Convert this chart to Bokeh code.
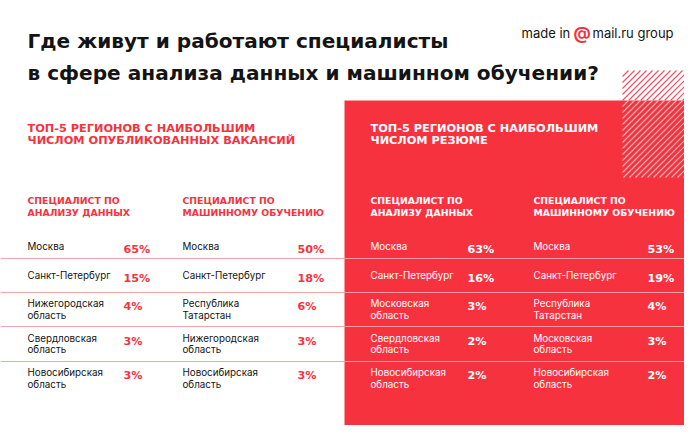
from bokeh.plotting import figure
from bokeh.models import Range1d
from bokeh.embed import file_html
from bokeh.resources import INLINE
from bokeh.core.properties import value

# ---------------- data ----------------
title_lines = ["Где живут и работают специалисты",
               "в сфере анализа данных и машинном обучении?"]
logo_parts = ["made in", "@", "mail.ru group"]
left_heading = ["ТОП-5 РЕГИОНОВ С НАИБОЛЬШИМ", "ЧИСЛОМ ОПУБЛИКОВАННЫХ ВАКАНСИЙ"]
right_heading = ["ТОП-5 РЕГИОНОВ С НАИБОЛЬШИМ", "ЧИСЛОМ РЕЗЮМЕ"]
col_da = ["СПЕЦИАЛИСТ ПО", "АНАЛИЗУ ДАННЫХ"]
col_ml = ["СПЕЦИАЛИСТ ПО", "МАШИННОМУ ОБУЧЕНИЮ"]

vac_da_regions = ["Москва", "Санкт-Петербург", "Нижегородская\nобласть",
                  "Свердловская\nобласть", "Новосибирская\nобласть"]
vac_da_share = [65, 15, 4, 3, 3]
vac_ml_regions = ["Москва", "Санкт-Петербург", "Республика\nТатарстан",
                  "Нижегородская\nобласть", "Новосибирская\nобласть"]
vac_ml_share = [50, 18, 6, 3, 3]
res_da_regions = ["Москва", "Санкт-Петербург", "Московская\nобласть",
                  "Свердловская\nобласть", "Новосибирская\nобласть"]
res_da_share = [63, 16, 3, 2, 2]
res_ml_regions = ["Москва", "Санкт-Петербург", "Республика\nТатарстан",
                  "Московская\nобласть", "Новосибирская\nобласть"]
res_ml_share = [53, 19, 4, 3, 2]

# ---------------- style / layout ----------------
RED = "#F7323F"
BLACK = "#141414"
FONT = "Inter"
HEAVY = "DejaVu Sans"
row_centers = [246, 275, 309, 343.5, 378]
separators = [258, 292, 326, 361]
PANEL_X = 344
PANEL_Y = 100

p = figure(width=684, height=425, x_range=Range1d(0, 684), y_range=Range1d(425, 0),
           output_backend="svg", toolbar_location=None, min_border=0,
           x_axis_type=None, y_axis_type=None)
p.grid.visible = False
p.outline_line_color = None
p.background_fill_color = "white"
p.border_fill_color = "white"

# red panel
p.quad(left=PANEL_X, right=700, top=PANEL_Y, bottom=441, fill_color=RED, line_color=None)

# hatch decoration
hx0, hx1, hy0, hy1 = 622, 700, 70, 177
xs0, ys0, xs1, ys1, cols = [], [], [], [], []
c = hx0 + hy0
while c <= hx1 + hy1:
    for (ya, yb, col) in [(hy0, PANEL_Y, "#F2505B"), (PANEL_Y, hy1, "#FBB2B7")]:
        xa = max(hx0, c - yb)
        xb = min(hx1, c - ya)
        if xb > xa:
            xs0.append(xa); ys0.append(c - xa); xs1.append(xb); ys1.append(c - xb); cols.append(col)
    c += 6
p.segment(x0=xs0, y0=ys0, x1=xs1, y1=ys1, line_color=cols, line_width=1.1)

# separators
for y in separators:
    p.segment(x0=[0], y0=[y], x1=[PANEL_X], y1=[y], line_color="#F3A2A7", line_width=1.2)
    p.segment(x0=[PANEL_X], y0=[y], x1=[700], y1=[y], line_color="#FB9EA4", line_width=1.2)


def txt(x, y, s, size, color, bold=False, align="left", font=FONT, baseline="middle"):
    p.text(x=[x], y=[y], text=[s], text_font=value(font), text_font_size=f"{size}px",
           text_color=color, text_font_style="bold" if bold else "normal",
           text_align=align, text_baseline=baseline)


# title
txt(27, 40.5, title_lines[0], 20.1, BLACK, bold=True, font=HEAVY, baseline="alphabetic")
txt(27, 72, title_lines[1], 20.1, BLACK, bold=True, font=HEAVY, baseline="alphabetic")

# logo
txt(521, 32, logo_parts[0], 13, BLACK)
txt(573, 32.5, logo_parts[1], 17, RED, bold=True)
txt(592, 32, logo_parts[2], 13, BLACK)

# headings
for i, line in enumerate(left_heading):
    txt(27, 127.5 + 12.5 * i, line, 11.3, RED, bold=True, font=HEAVY, baseline="alphabetic")
for i, line in enumerate(right_heading):
    txt(370, 127.5 + 12.5 * i, line, 11.3, "white", bold=True, font=HEAVY, baseline="alphabetic")

for (x, lines, color) in [(27, col_da, RED), (182, col_ml, RED),
                          (370, col_da, "white"), (533, col_ml, "white")]:
    for i, line in enumerate(lines):
        txt(x, 199.5 + 12.5 * i, line, 9.3, color, bold=True, font=HEAVY, baseline="alphabetic")

# tables
tables = [
    (27, 123, vac_da_regions, vac_da_share, BLACK, RED),
    (182, 297, vac_ml_regions, vac_ml_share, BLACK, RED),
    (370, 467, res_da_regions, res_da_share, "white", "white"),
    (533, 647, res_ml_regions, res_ml_share, "white", "white"),
]
for (nx, px, regions, shares, ncol, pcol) in tables:
    for r, (name, share) in enumerate(zip(regions, shares)):
        lines = name.split("\n")
        cy = row_centers[r]
        if len(lines) == 1:
            txt(nx, cy, lines[0], 9.8, ncol)
            txt(px, cy + 2.8, f"{share}%", 11.2, pcol, bold=True, font=HEAVY, baseline="alphabetic")
        else:
            txt(nx, cy - 5.8, lines[0], 9.8, ncol)
            txt(nx, cy + 5.8, lines[1], 9.8, ncol)
            txt(px, cy - 5.8 + 2.8, f"{share}%", 11.2, pcol, bold=True, font=HEAVY, baseline="alphabetic")

open("out.html", "w").write(file_html(p, INLINE))
